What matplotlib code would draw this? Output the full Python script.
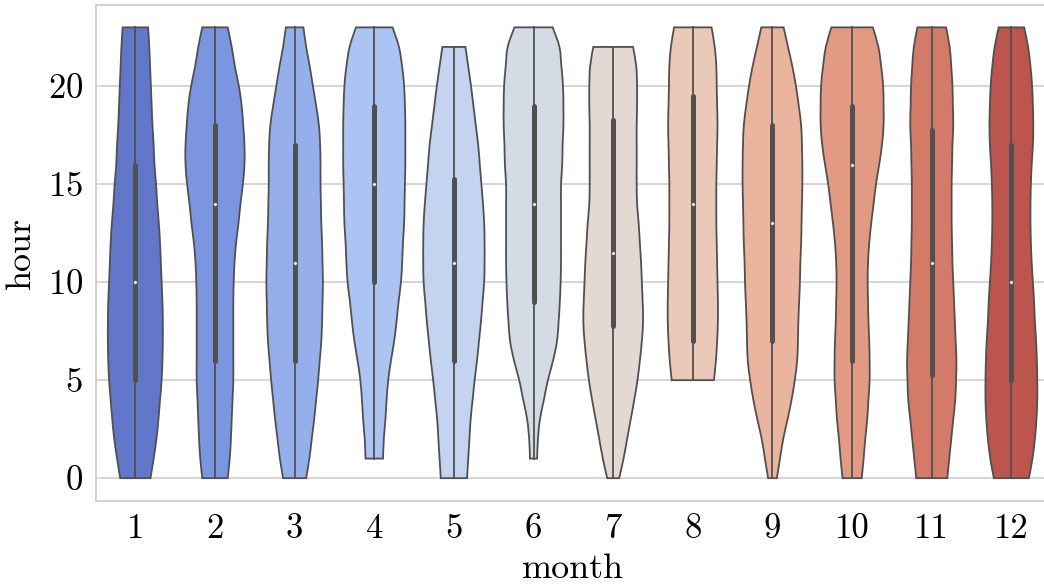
import numpy as np
import matplotlib
matplotlib.use("Agg")
import matplotlib.pyplot as plt
from matplotlib.path import Path
from matplotlib.patches import PathPatch
import seaborn as sns
import colorsys

# categories
months = [str(m) for m in range(1, 13)]

# summary values (hours)
hour_min = [0, 0, 0, 1, 0, 1, 0, 5, 0, 0, 0, 0]
hour_max = [23, 23, 23, 23, 22, 23, 22, 23, 23, 23, 23, 23]
q1 = [5, 6, 6, 10, 6, 9, 7.75, 7, 7, 6, 5.25, 5]
median = [10, 14, 11, 15, 11, 14, 11.5, 14, 13, 16, 11, 10]
q3 = [16, 18, 17, 19, 15.25, 19, 18.25, 19.5, 18, 19, 17.75, 17]

# violin width (in category units) at each whole hour, from hour_min to hour_max
w01 = [0.38, 0.46, 0.53, 0.58, 0.62, 0.66, 0.68, 0.69, 0.69, 0.68, 0.66, 0.64,
       0.62, 0.59, 0.55, 0.52, 0.48, 0.46, 0.43, 0.41, 0.39, 0.37, 0.35, 0.32]
w02 = [0.32, 0.37, 0.40, 0.42, 0.44, 0.46, 0.46, 0.46, 0.46, 0.46, 0.47, 0.49,
       0.53, 0.59, 0.64, 0.70, 0.74, 0.74, 0.71, 0.67, 0.60, 0.50, 0.42, 0.32]
w03 = [0.29, 0.37, 0.43, 0.49, 0.54, 0.59, 0.63, 0.67, 0.69, 0.70, 0.71, 0.70,
       0.69, 0.67, 0.66, 0.65, 0.65, 0.64, 0.61, 0.54, 0.46, 0.38, 0.29, 0.22]
w04 = [0.22, 0.24, 0.28, 0.31, 0.35, 0.42, 0.50, 0.56, 0.61, 0.67, 0.70,
       0.72, 0.75, 0.76, 0.77, 0.78, 0.78, 0.78, 0.77, 0.75, 0.70, 0.62, 0.46]
w05 = [0.33, 0.36, 0.39, 0.42, 0.47, 0.52, 0.58, 0.63, 0.68, 0.72, 0.76, 0.77,
       0.77, 0.76, 0.73, 0.69, 0.65, 0.61, 0.55, 0.49, 0.43, 0.36, 0.29]
w06 = [0.09, 0.11, 0.16, 0.26, 0.36, 0.49, 0.59, 0.63, 0.66, 0.68, 0.69,
       0.69, 0.69, 0.69, 0.69, 0.72, 0.73, 0.75, 0.75, 0.74, 0.70, 0.65, 0.48]
w07 = [0.15, 0.26, 0.35, 0.44, 0.53, 0.61, 0.67, 0.72, 0.75, 0.74, 0.72, 0.70,
       0.67, 0.64, 0.60, 0.59, 0.59, 0.59, 0.59, 0.60, 0.60, 0.58, 0.50]
w08 = [0.53, 0.58, 0.61, 0.63, 0.63, 0.62, 0.61, 0.60, 0.59, 0.59,
       0.59, 0.60, 0.61, 0.62, 0.61, 0.60, 0.59, 0.55, 0.47]
w09 = [0.11, 0.19, 0.27, 0.38, 0.48, 0.56, 0.62, 0.64, 0.65, 0.67, 0.69, 0.70,
       0.72, 0.73, 0.74, 0.75, 0.75, 0.74, 0.72, 0.66, 0.59, 0.50, 0.39, 0.28]
w10 = [0.24, 0.29, 0.33, 0.38, 0.41, 0.44, 0.44, 0.43, 0.41, 0.40, 0.39, 0.40,
       0.43, 0.48, 0.54, 0.60, 0.68, 0.75, 0.79, 0.79, 0.78, 0.73, 0.66, 0.52]
w11 = [0.39, 0.44, 0.49, 0.54, 0.59, 0.61, 0.62, 0.60, 0.58, 0.56, 0.54, 0.52,
       0.51, 0.50, 0.50, 0.50, 0.51, 0.52, 0.54, 0.53, 0.52, 0.49, 0.45, 0.36]
w12 = [0.44, 0.53, 0.59, 0.63, 0.65, 0.65, 0.64, 0.62, 0.59, 0.57, 0.54, 0.51,
       0.49, 0.48, 0.48, 0.49, 0.51, 0.54, 0.55, 0.54, 0.52, 0.48, 0.42, 0.32]
widths = [w01, w02, w03, w04, w05, w06, w07, w08, w09, w10, w11, w12]

plt.rcParams["font.family"] = "serif"
plt.rcParams["font.serif"] = ["cmr10"]
plt.rcParams["axes.formatter.use_mathtext"] = True
plt.rcParams["mathtext.fontset"] = "cm"

colors = sns.color_palette("coolwarm", 12, desat=0.75)
lum = min(colorsys.rgb_to_hls(*c)[1] for c in colors) * 0.6
gray = (lum, lum, lum)


def smooth_side(xs, ys):
    # bezier segments through the measured points (catmull-rom handles)
    verts, codes = [], []
    n = len(xs)
    for k in range(n - 1):
        a = max(k - 1, 0)
        b = min(k + 2, n - 1)
        c1 = (xs[k] + (xs[k + 1] - xs[a]) / 6, ys[k] + (ys[k + 1] - ys[a]) / 6)
        c2 = (xs[k + 1] - (xs[b] - xs[k]) / 6, ys[k + 1] - (ys[b] - ys[k]) / 6)
        verts += [c1, c2, (xs[k + 1], ys[k + 1])]
        codes += [Path.CURVE4] * 3
    return verts, codes


fig = plt.figure(figsize=(10.44, 5.87), dpi=100)
ax = fig.add_axes([0.0915, 0.147, 0.9154, 0.8448])

for i in range(12):
    h = np.arange(hour_min[i], hour_max[i] + 1, dtype=float)
    half = np.array(widths[i]) / 2
    right_x = i + half
    left_x = (i - half)[::-1]
    verts = [(right_x[0], h[0])]
    codes = [Path.MOVETO]
    v, c = smooth_side(right_x, h)
    verts += v
    codes += c
    verts.append((left_x[0], h[-1]))
    codes.append(Path.LINETO)
    v, c = smooth_side(left_x, h[::-1])
    verts += v
    codes += c
    verts.append((right_x[0], h[0]))
    codes.append(Path.CLOSEPOLY)
    ax.add_patch(PathPatch(Path(verts, codes), facecolor=colors[i],
                           edgecolor=gray, linewidth=1.3, zorder=2))
    ax.plot([i, i], [hour_min[i], hour_max[i]], color=gray, lw=1.3, zorder=3)
    ax.plot([i, i], [q1[i], q3[i]], color=gray, lw=3.6,
            solid_capstyle="round", zorder=3)
    ax.scatter(i, median[i], s=7, color="white", edgecolor=gray,
               linewidth=0.5, zorder=4)

ax.set_xlim(-0.5, 11.5)
ax.set_ylim(-1.15, 24.15)
ax.set_xticks(range(12))
ax.set_xticklabels(months)
ax.set_yticks([0, 5, 10, 15, 20])
ax.yaxis.grid(True, color="#cccccc", lw=1.1, zorder=0)
ax.set_axisbelow(True)
for s in ax.spines.values():
    s.set_color("#cccccc")
    s.set_linewidth(1.25)
ax.tick_params(length=0, labelsize=25, pad=9)
ax.set_xlabel("month", fontsize=26, labelpad=6)
ax.set_ylabel("hour", fontsize=26, labelpad=8)

fig.savefig("out.png", dpi=100)
